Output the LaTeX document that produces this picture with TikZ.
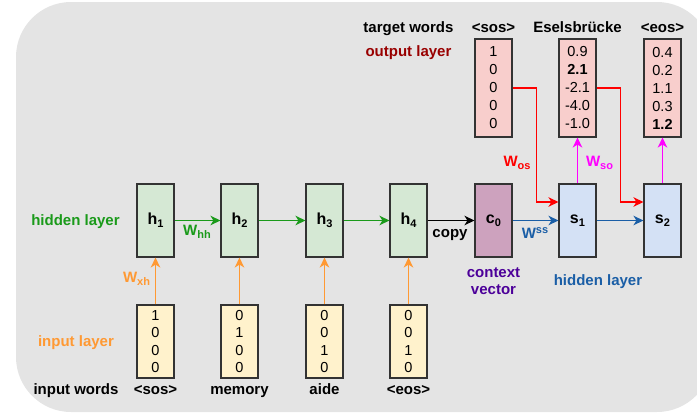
\documentclass[tikz,border=0pt]{standalone}
\usepackage{fontspec}
\setmainfont{Liberation Sans}
\usetikzlibrary{arrows.meta}

\definecolor{panel}{HTML}{E4E4E4}
\definecolor{edge}{HTML}{333333}
\definecolor{hfill}{HTML}{D5E8D4}
\definecolor{sfill}{HTML}{D4E1F5}
\definecolor{cfill}{HTML}{CDA2BE}
\definecolor{ofill}{HTML}{F8CECC}
\definecolor{ifill}{HTML}{FFF2CC}
\definecolor{grn}{HTML}{1A9A1A}
\definecolor{org}{HTML}{FF9933}
\definecolor{dred}{HTML}{990000}
\definecolor{purp}{HTML}{4C0099}
\definecolor{blu}{HTML}{1A5EA6}
\definecolor{mag}{HTML}{FF00FF}

% lowered / raised indices in the text font
\newcommand{\lowidx}[1]{\raisebox{-0.35ex}{\fontsize{11}{12}\selectfont #1}}
\newcommand{\highidx}[1]{\raisebox{0.6ex}{\fontsize{11}{12}\selectfont #1}}

\tikzset{
  cell/.style={draw=edge, line width=1.1pt, minimum width=37pt, minimum height=73pt,
    inner sep=0pt, align=center},
  hcell/.style={cell, fill=hfill, font=\fontsize{16}{18}\selectfont\bfseries},
  scell/.style={cell, fill=sfill, font=\fontsize{16}{18}\selectfont\bfseries},
  ccell/.style={cell, fill=cfill, font=\fontsize{16}{18}\selectfont\bfseries},
  icell/.style={cell, fill=ifill, font=\fontsize{14.5}{17.5}\selectfont},
  ocell/.style={cell, fill=ofill, minimum height=98pt, font=\fontsize{14.5}{18}\selectfont},
  lbl/.style={font=\fontsize{15}{18}\selectfont\bfseries, inner sep=0pt, align=center},
  word/.style={lbl, anchor=base},
  conn/.style={line width=1.3pt, -{Stealth[length=10pt,width=9.5pt,inset=3pt]}},
}

\begin{document}
\begin{tikzpicture}[x=1pt,y=-1pt]
\useasboundingbox (0,0) rectangle (697,415);
\begin{scope}
  \clip (0,0) rectangle (697,415);
  \fill[panel, rounded corners=55pt] (16,2) rectangle (712,412);
\end{scope}

% encoder: hidden states
\node[hcell] (h1) at (155.5,220.5) {h\lowidx{1}};
\node[hcell] (h2) at (239.5,220.5) {h\lowidx{2}};
\node[hcell] (h3) at (324.5,220.5) {h\lowidx{3}};
\node[hcell] (h4) at (408.5,220.5) {h\lowidx{4}};
% context vector and decoder states
\node[ccell] (c0) at (493.5,220.5) {c\lowidx{0}};
\node[scell] (s1) at (577.5,220.5) {s\lowidx{1}};
\node[scell] (s2) at (662.5,220.5) {s\lowidx{2}};

% one-hot inputs
\node[icell] (x1) at (155.5,341.5) {1\\0\\0\\0};
\node[icell] (x2) at (239.5,341.5) {0\\1\\0\\0};
\node[icell] (x3) at (324.5,341.5) {0\\0\\1\\0};
\node[icell] (x4) at (408.5,341.5) {0\\0\\1\\0};

% output scores
\node[ocell] (o1) at (493.5,88) {1\\0\\0\\0\\0};
\node[ocell] (o2) at (577.5,88) {0.9\\\textbf{2.1}\\-2.1\\-4.0\\-1.0};
\node[ocell] (o3) at (662.5,88) {0.4\\0.2\\1.1\\0.3\\\textbf{1.2}};

% words and layer labels
\node[word] (tw) at (408.5,32.5) {target words};
\node[word] (t1) at (493.5,32.5) {<sos>};
\node[word] (t2) at (577.5,32.5) {Eselsbrücke};
\node[word] (t3) at (662.5,32.5) {<eos>};
\node[word, text=dred] (ol) at (408.5,56.5) {output layer};
\node[word, text=grn] (hl) at (75.5,225) {hidden layer};
\node[word, text=org] (il) at (76,346) {input layer};
\node[word] (iw) at (76,394.5) {input words};
\node[word] (w1) at (155.5,394.5) {<sos>};
\node[word] (w2) at (239.5,394.5) {memory};
\node[word] (w3) at (324.5,394.5) {aide};
\node[word] (w4) at (408.5,394.5) {<eos>};
\node[lbl, text=purp] (cv) at (493.5,281) {context\\[-1pt]vector};
\node[word, text=blu] (dl) at (598,285) {hidden layer};

% connectors
\draw[conn, org] (x1) -- (h1);
\draw[conn, org] (x2) -- (h2);
\draw[conn, org] (x3) -- (h3);
\draw[conn, org] (x4) -- (h4);
\draw[conn, grn] (h1) -- (h2);
\draw[conn, grn] (h2) -- (h3);
\draw[conn, grn] (h3) -- (h4);
\draw[conn, black] (h4) -- (c0);
\draw[conn, blu] (c0) -- (s1);
\draw[conn, blu] (s1) -- (s2);
\draw[conn, mag] (s1) -- (o2);
\draw[conn, mag] (s2) -- (o3);
\draw[conn, red] (o1.east) -- ++(24,0) |- ([yshift=18.5pt]s1.west);
\draw[conn, red] (o2.east) -- ++(24,0) |- ([yshift=18.5pt]s2.west);

% weight labels
\node[lbl, text=org] (wxh) at (136.5,279) {W\lowidx{xh}};
\node[lbl, text=grn] (whh) at (197,232) {W\lowidx{hh}};
\node[word] (cp) at (450,237) {copy};
\node[lbl, text=blu] (wss) at (535,233) {W\highidx{ss}};
\node[lbl, text=red] (wos) at (517,163) {W\lowidx{os}};
\node[lbl, text=mag] (wso) at (599.5,163) {W\lowidx{so}};
\end{tikzpicture}
\end{document}
